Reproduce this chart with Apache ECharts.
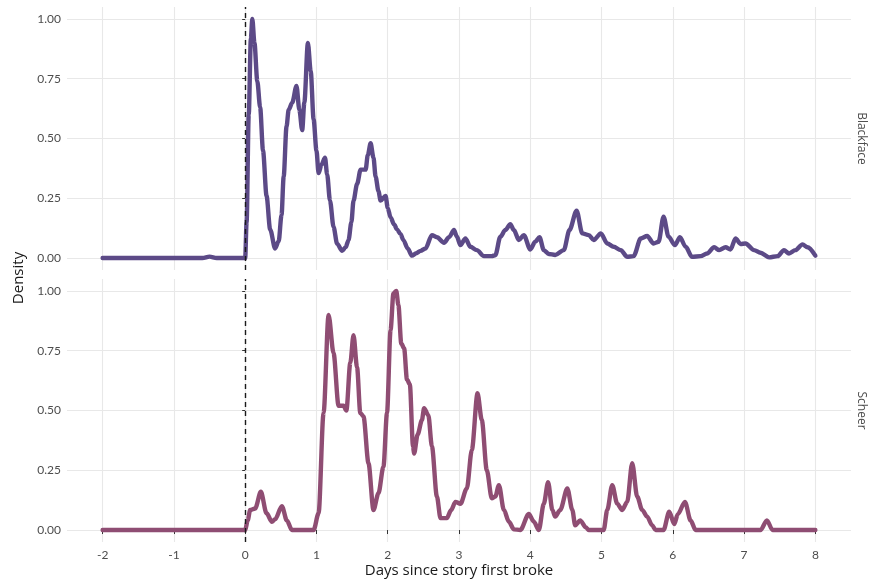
<!DOCTYPE html>
<html>
<head>
<meta charset="utf-8">
<script src="https://cdn.jsdelivr.net/npm/echarts@6/dist/echarts.min.js"></script>
<style>html,body{margin:0;padding:0;background:#fff}#c{width:870px;height:582px}</style>
</head>
<body>
<div id="c"></div>
<script>
const panels = ['Blackface', 'Scheer'];
const xTicks = [-2, -1, 0, 1, 2, 3, 4, 5, 6, 7, 8];
const yTicks = [0, 0.25, 0.5, 0.75, 1];
const yTickLabels = ['0.00', '0.25', '0.50', '0.75', '1.00'];
const xTitle = 'Days since story first broke';
const yTitle = 'Density';

const blackface = [
  [-2,0],[-0.6,0],[-0.5,0.006],[-0.4,0],[0,0],[0.02,0.15],[0.05,0.6],[0.08,0.92],[0.10,1.0],[0.13,0.9],
  [0.17,0.74],[0.21,0.63],[0.25,0.45],[0.30,0.26],[0.35,0.12],[0.42,0.04],[0.47,0.07],[0.51,0.18],[0.54,0.34],[0.58,0.55],
  [0.61,0.62],[0.66,0.65],[0.72,0.72],[0.76,0.62],[0.80,0.535],[0.83,0.65],[0.88,0.90],[0.92,0.78],[0.96,0.58],[1.00,0.45],
  [1.03,0.355],[1.07,0.39],[1.12,0.42],[1.15,0.35],[1.19,0.24],[1.24,0.13],[1.29,0.06],[1.36,0.03],[1.41,0.045],[1.45,0.075],
  [1.49,0.15],[1.52,0.24],[1.57,0.31],[1.62,0.37],[1.69,0.37],[1.72,0.43],[1.76,0.48],[1.80,0.42],[1.83,0.34],[1.87,0.28],
  [1.90,0.24],[1.97,0.26],[2.00,0.21],[2.04,0.17],[2.09,0.14],[2.13,0.12],[2.18,0.10],[2.22,0.075],[2.28,0.04],[2.34,0.01],
  [2.40,0.02],[2.46,0.03],[2.53,0.04],[2.62,0.096],[2.69,0.087],[2.79,0.064],[2.86,0.087],[2.93,0.117],[2.97,0.09],[3.02,0.054],
  [3.09,0.082],[3.16,0.047],[3.25,0.033],[3.35,0.008],[3.46,0.008],[3.51,0.012],[3.58,0.089],[3.65,0.117],[3.72,0.142],[3.77,0.117],
  [3.84,0.075],[3.91,0.096],[4.00,0.036],[4.07,0.068],[4.13,0.087],[4.19,0.033],[4.26,0.017],[4.35,0.013],[4.47,0.033],[4.55,0.117],
  [4.65,0.198],[4.73,0.103],[4.82,0.096],[4.89,0.075],[4.99,0.103],[5.08,0.061],[5.17,0.047],[5.27,0.033],[5.36,0.005],[5.45,0.008],
  [5.55,0.082],[5.64,0.092],[5.73,0.061],[5.80,0.068],[5.87,0.173],[5.94,0.089],[6.03,0.054],[6.10,0.087],[6.18,0.047],[6.27,0.005],
  [6.39,0.008],[6.48,0.019],[6.58,0.045],[6.65,0.033],[6.74,0.045],[6.81,0.036],[6.88,0.082],[6.95,0.059],[7.02,0.061],[7.14,0.033],
  [7.23,0.022],[7.35,0.003],[7.47,0.008],[7.56,0.033],[7.63,0.019],[7.72,0.033],[7.82,0.057],[7.89,0.045],[8.00,0.01]
];

const scheer = [
  [-2,0],[0,0],[0.035,0.04],[0.07,0.084],[0.14,0.09],[0.22,0.16],[0.30,0.07],[0.375,0.035],[0.42,0.045],[0.515,0.10],
  [0.585,0.04],[0.656,0],[0.96,0],[1.03,0.07],[1.10,0.49],[1.17,0.90],[1.24,0.74],[1.31,0.52],[1.38,0.52],[1.42,0.50],
  [1.475,0.70],[1.52,0.815],[1.57,0.68],[1.615,0.49],[1.66,0.475],[1.73,0.28],[1.80,0.084],[1.87,0.154],[1.94,0.265],[1.99,0.49],
  [2.04,0.837],[2.08,0.99],[2.12,1.0],[2.15,0.94],[2.19,0.78],[2.23,0.76],[2.27,0.63],[2.31,0.61],[2.355,0.35],[2.37,0.32],
  [2.42,0.40],[2.48,0.46],[2.51,0.51],[2.57,0.48],[2.62,0.35],[2.69,0.14],[2.74,0.05],[2.83,0.05],[2.89,0.084],[2.95,0.118],
  [3.02,0.11],[3.11,0.174],[3.18,0.335],[3.26,0.572],[3.32,0.46],[3.39,0.25],[3.46,0.133],[3.51,0.14],[3.56,0.188],[3.63,0.084],
  [3.70,0.035],[3.77,0.003],[3.86,0],[3.98,0.067],[4.05,0.035],[4.12,0],[4.19,0.11],[4.25,0.20],[4.31,0.084],[4.35,0.056],
  [4.42,0.084],[4.52,0.174],[4.59,0.084],[4.63,0.02],[4.70,0.04],[4.78,0.011],[4.82,0],[5.03,0],[5.08,0.084],[5.15,0.188],
  [5.22,0.11],[5.29,0.084],[5.36,0.118],[5.43,0.28],[5.50,0.14],[5.57,0.084],[5.64,0.056],[5.71,0.02],[5.76,0],[5.87,0],
  [5.95,0.077],[6.02,0.025],[6.07,0.066],[6.17,0.118],[6.25,0.04],[6.32,0],[7.23,0],[7.32,0.04],[7.40,0],[8,0]
];

const colors = ['#5c4a87', '#8f4d73'];
const FONT = 'Lato';
const TFONT = 'Open Sans';
const chart = echarts.init(document.getElementById('c'), null, {renderer: 'canvas'});

const gridLeft = 67, gridRight = 19, gridH = 263;
const tops = [7, 279];

function xAxisFor(i) {
  const bottom = i === 1;
  return {
    type: 'value', gridIndex: i, min: -2.5, max: 8.5,
    axisLine: {show: false},
    axisTick: {show: bottom, customValues: xTicks, length: 4, lineStyle: {color: '#333', width: 1}},
    axisLabel: {show: bottom, customValues: xTicks, color: '#4d4d4d', fontSize: 12, fontFamily: FONT, margin: 7,
      formatter: v => String(v)},
    splitLine: {show: true, lineStyle: {color: '#e8e8e8', width: 1.1}},
    name: bottom ? xTitle : '', nameLocation: 'middle', nameGap: 21,
    nameTextStyle: {color: '#1a1a1a', fontSize: 15, fontFamily: TFONT}
  };
}
function yAxisFor(i) {
  return {
    type: 'value', gridIndex: i, min: -0.05, max: 1.05,
    axisLine: {show: false},
    axisTick: {show: true, customValues: yTicks, length: 3, lineStyle: {color: '#333', width: 1}},
    axisLabel: {show: true, customValues: yTicks, color: '#4d4d4d', fontSize: 12, fontFamily: FONT, margin: 6,
      formatter: v => yTickLabels[yTicks.indexOf(Math.round(v * 100) / 100)] ?? v.toFixed(2)},
    splitLine: {show: true, lineStyle: {color: '#e8e8e8', width: 1.1}}
  };
}

const option = {
  animation: false,
  backgroundColor: '#ffffff',
  grid: tops.map(t => ({left: gridLeft, right: gridRight, top: t, height: gridH, containLabel: false, outerBoundsMode: 'none'})),
  xAxis: [xAxisFor(0), xAxisFor(1)],
  yAxis: [yAxisFor(0), yAxisFor(1)],
  series: [blackface, scheer].map((d, i) => ({
    type: 'line', name: panels[i], xAxisIndex: i, yAxisIndex: i, data: d,
    showSymbol: false, smooth: 0.3, smoothMonotone: 'x',
    lineStyle: {color: colors[i], width: 4.4, join: 'round', cap: 'round'},
    markLine: {
      silent: true, symbol: 'none', label: {show: false},
      lineStyle: {color: '#1a1a1a', type: [5, 4], width: 1.4},
      data: [{xAxis: 0}]
    },
    z: 3
  })),
  graphic: [
    {type: 'text', x: 19, y: 278, rotation: Math.PI / 2,
      style: {text: yTitle, fill: '#1a1a1a', fontSize: 15, fontFamily: TFONT, align: 'center', verticalAlign: 'middle'}},
    ...panels.map((p, i) => ({
      type: 'text', x: 861, y: tops[i] + gridH / 2, rotation: -Math.PI / 2,
      style: {text: p, fill: '#4d4d4d', fontSize: 12, fontFamily: TFONT, align: 'center', verticalAlign: 'middle'}
    }))
  ]
};
chart.setOption(option);
</script>
</body>
</html>
